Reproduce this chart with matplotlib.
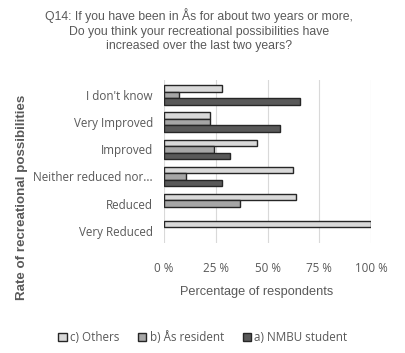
import matplotlib
matplotlib.use("Agg")
import matplotlib.pyplot as plt
import numpy as np

categories = ["I don't know", "Very Improved", "Improved",
              "Neither reduced nor...", "Reduced", "Very Reduced"]
others = [28.2, 22.4, 44.8, 62.2, 63.8, 100.0]
as_resident = [7.2, 22.4, 24.2, 10.8, 36.6, 0.0]
nmbu_student = [65.7, 56.0, 32.0, 28.0, 0.0, 0.0]
xticks = [0, 25, 50, 75, 100]

SERIES = [
    ("c) Others", others, "#d9d9d9"),
    ("b) Ås resident", as_resident, "#a6a6a6"),
    ("a) NMBU student", nmbu_student, "#595959"),
]
EDGE = "#262626"
TEXT = "#595959"
ARIAL = ["Liberation Sans", "DejaVu Sans"]
BODY = ["Open Sans", "DejaVu Sans"]

fig = plt.figure(figsize=(4.06, 3.53), dpi=100)
ax = fig.add_axes([0.404, 0.312, 0.51, 0.461])

y = np.arange(len(categories))
h = 0.24
handles = []
for k, (name, vals, color) in enumerate(SERIES):
    # empty categories get no outline so no stub shows at 0
    lws = [1.0 if v > 0 else 0 for v in vals]
    b = ax.barh(y + (k - 1) * h, vals, height=h, color=color,
                edgecolor=EDGE, linewidth=lws, label=name, zorder=3)
    handles.append(b)

ax.set_xlim(0, 100)
ax.set_ylim(5.45, -0.55)
ax.set_xticks(xticks, [f"{v} %" for v in xticks], fontfamily=BODY,
              fontsize=8.4, color=TEXT)
ax.set_yticks(y, categories, fontfamily=BODY, fontsize=8.4, color=TEXT)
ax.tick_params(axis="x", length=0, pad=14)
ax.tick_params(axis="y", length=0, pad=8)
ax.grid(axis="x", color="#d9d9d9", linewidth=0.8, zorder=0)
for s in ax.spines.values():
    s.set_visible(False)

ax.set_xlabel("Percentage of respondents", fontfamily=ARIAL, fontsize=9.2,
              color=TEXT)
ax.xaxis.set_label_coords(0.445, -0.265)
fig.text(0.054, 0.44, "Rate of recreational possibilities", rotation=90,
         ha="center", va="center", fontfamily=ARIAL, fontsize=9.6,
         fontweight="bold", color=TEXT)

fig.text(0.49, 0.978, "Q14: If you have been in Ås for about two years or more,\n"
         "Do you think your recreational possibilities have\n"
         "increased over the last two years?",
         ha="center", va="top", fontfamily=ARIAL, fontsize=8.8,
         color=TEXT, linespacing=1.32)

fig.legend(handles=handles, loc="center", bbox_to_anchor=(0.5, 0.043),
           ncol=3, frameon=False, handlelength=0.7, handleheight=0.7,
           handletextpad=0.3, columnspacing=1.6,
           prop={"family": BODY, "size": 8.4}, labelcolor=TEXT)

fig.savefig("out.png", dpi=100, facecolor="white")
